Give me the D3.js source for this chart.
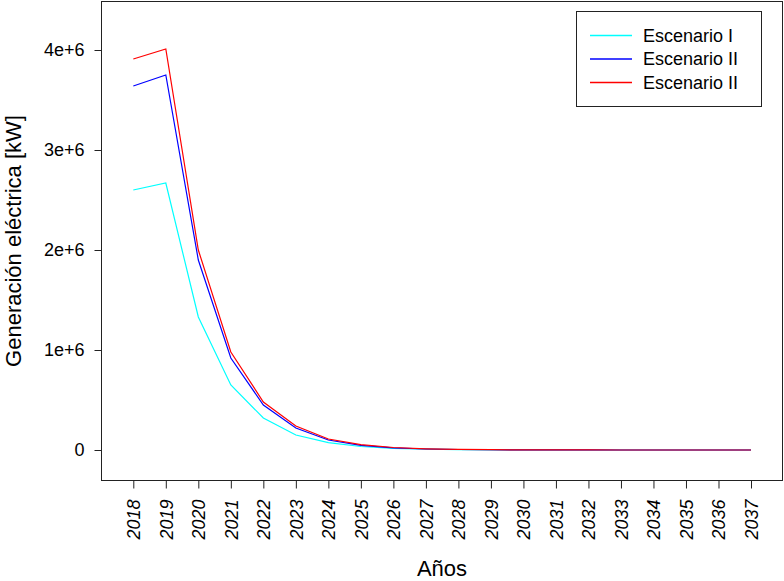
<!DOCTYPE html>
<html>
<head>
<meta charset="utf-8">
<script src="https://cdn.jsdelivr.net/npm/d3@7"></script>
<style>
  html, body { margin: 0; padding: 0; background: #fff; }
  svg { display: block; font-family: "Liberation Sans", Arial, sans-serif; }
</style>
</head>
<body>
<svg id="chart" width="784" height="581"></svg>
<script>
const years = [2018, 2019, 2020, 2021, 2022, 2023, 2024, 2025, 2026, 2027, 2028, 2029, 2030, 2031, 2032, 2033, 2034, 2035, 2036, 2037];
const escenarioI   = [2600000, 2670000, 1330000, 650000, 320000, 150000, 73000, 35000, 17000, 8000, 4000, 2000, 1000, 500, 250, 120, 60, 30, 15, 8];
const escenarioII  = [3640000, 3750000, 1900000, 920000, 450000, 220000, 100000, 47000, 22000, 10000, 5000, 2500, 1200, 600, 300, 150, 70, 35, 18, 9];
const escenarioIII = [3910000, 4010000, 2000000, 980000, 480000, 240000, 110000, 53000, 25000, 12000, 6000, 3000, 1500, 700, 350, 170, 80, 40, 20, 10];
const seriesNames = ["Escenario I", "Escenario II", "Escenario II"];
const seriesColors = ["#00FFFF", "#0000FF", "#FF0000"];
const yTicks = [0, 1000000, 2000000, 3000000, 4000000];
const yTickLabels = ["0", "1e+6", "2e+6", "3e+6", "4e+6"];
const xTitle = "Años";
const yTitle = "Generación eléctrica [kW]";

const svg = d3.select("#chart");
const box = { left: 101.5, right: 782.5, top: 1.5, bottom: 480.5 };

const x = d3.scaleLinear().domain([2018, 2037]).range([133.3, 751]);
const y = d3.scaleLinear().domain([0, 4000000]).range([450, 50]);

const allSeries = [escenarioI, escenarioII, escenarioIII];

// Lines
const line = d3.line().x((d, i) => x(years[i])).y(d => y(d));
allSeries.forEach((s, k) => {
  svg.append("path")
    .datum(s)
    .attr("d", line)
    .attr("fill", "none")
    .attr("stroke", seriesColors[k])
    .attr("stroke-width", 1.2);
});

// Box
svg.append("rect")
  .attr("x", box.left).attr("y", box.top)
  .attr("width", box.right - box.left).attr("height", box.bottom - box.top)
  .attr("fill", "none").attr("stroke", "#222").attr("stroke-width", 1);

// Y axis
const yAxis = d3.axisLeft(y).tickValues(yTicks)
  .tickFormat((d, i) => yTickLabels[i]).tickSize(7).tickPadding(10);
const yg = svg.append("g").attr("transform", `translate(${box.left},0)`).call(yAxis);
yg.select(".domain").remove();
yg.selectAll(".tick line").attr("stroke", "#222");
yg.selectAll(".tick text").attr("font-size", 18).attr("fill", "#000")
  .attr("font-family", "Liberation Sans, Arial, sans-serif");

// X axis
const xAxis = d3.axisBottom(x).tickValues(years).tickFormat(d3.format("d")).tickSize(8);
const xg = svg.append("g").attr("transform", `translate(0,${box.bottom})`).call(xAxis);
xg.select(".domain").remove();
xg.selectAll(".tick line").attr("stroke", "#222");
xg.selectAll(".tick text")
  .attr("font-size", 18).attr("fill", "#000")
  .attr("font-style", "italic")
  .attr("font-family", "Liberation Sans, Arial, sans-serif")
  .attr("transform", "rotate(-90)")
  .attr("text-anchor", "end")
  .attr("x", -19).attr("y", 0).attr("dy", "0.35em");

// Axis titles
svg.append("text")
  .attr("x", (box.left + box.right) / 2).attr("y", 576)
  .attr("text-anchor", "middle").attr("font-size", 22).attr("fill", "#000")
  .text(xTitle);
svg.append("text")
  .attr("transform", `translate(21,${(box.top + box.bottom) / 2}) rotate(-90)`)
  .attr("text-anchor", "middle").attr("font-size", 22).attr("fill", "#000")
  .text(yTitle);

// Legend
const lg = svg.append("g");
lg.append("rect").attr("x", 576.5).attr("y", 11.5).attr("width", 185).attr("height", 95)
  .attr("fill", "#fff").attr("stroke", "#222").attr("stroke-width", 1);
seriesNames.forEach((n, k) => {
  const yy = 35.5 + k * 23.5;
  lg.append("path").attr("d", `M590,${yy}L632,${yy}`)
    .attr("fill", "none")
    .attr("stroke", seriesColors[k]).attr("stroke-width", 1.4);
  lg.append("text").attr("x", 643).attr("y", yy).attr("dy", "0.35em")
    .attr("font-size", 18).attr("fill", "#000").text(n);
});
</script>
</body>
</html>
